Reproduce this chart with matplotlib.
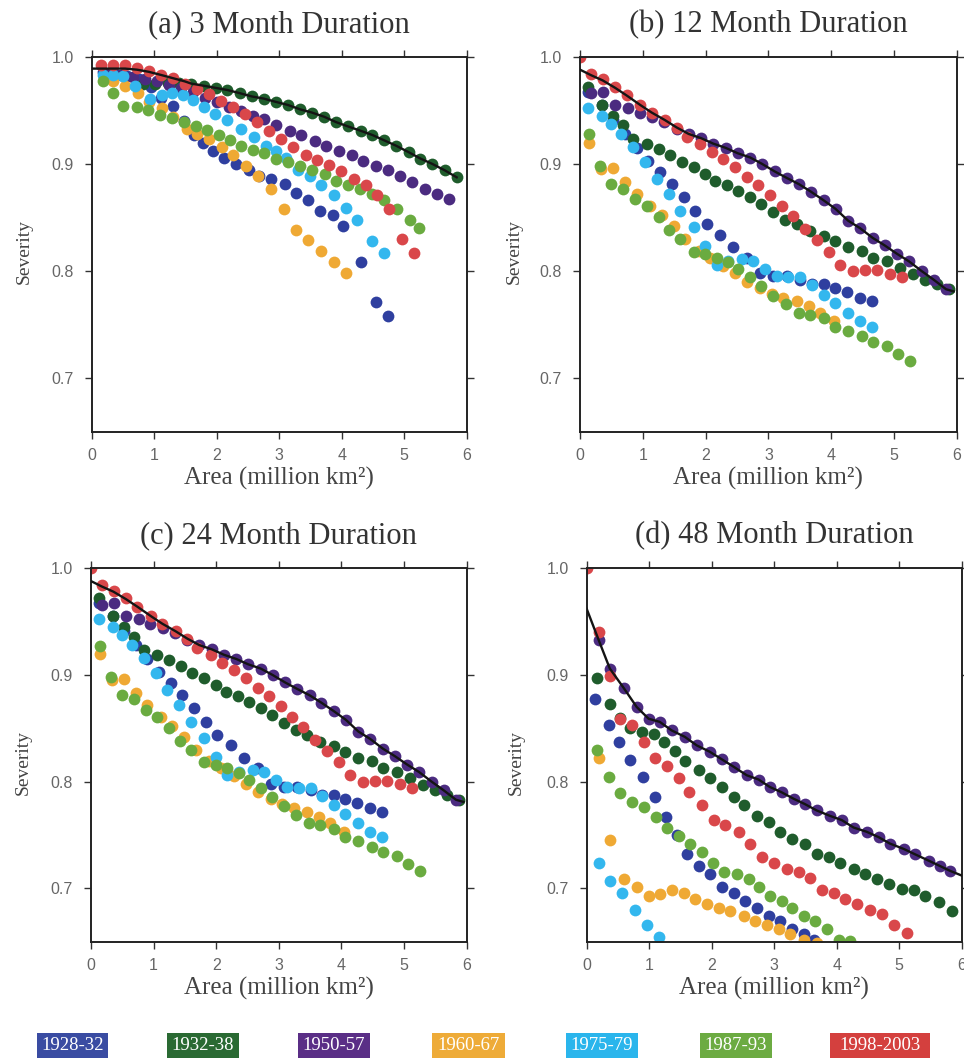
import matplotlib
matplotlib.use("Agg")
import matplotlib.pyplot as plt
from matplotlib.patches import Rectangle

# Drought periods (legend) and colours
periods = ["1928-32", "1932-38", "1950-57", "1960-67", "1975-79", "1987-93", "1998-2003"]
dot_colors = ["#2f3f9f", "#1f5c2c", "#4b2b80", "#efa934", "#33b7ee", "#6aab40", "#d9474a"]
box_colors = ["#3a4ca2", "#2a6a33", "#5a2e86", "#eeab38", "#2ab5ec", "#6cab42", "#d4403e"]

titles = ["(a) 3 Month Duration", "(b) 12 Month Duration",
          "(c) 24 Month Duration", "(d) 48 Month Duration"]
x_ticks = [0, 1, 2, 3, 4, 5, 6]
y_ticks = [0.7, 0.8, 0.9, 1.0]

# ---- (a) 3 month duration ----
a_blue_x = [0.18, 0.37, 0.56, 0.75, 0.94, 1.10, 1.29, 1.47, 1.64, 1.78, 1.94, 2.12, 2.31, 2.52, 2.68,
            2.87, 3.09, 3.27, 3.46, 3.65, 3.86, 4.02, 4.30, 4.55, 4.74]
a_blue_y = [0.986, 0.984, 0.982, 0.979, 0.972, 0.962, 0.954, 0.940, 0.927, 0.920, 0.912, 0.906, 0.900,
            0.894, 0.889, 0.886, 0.881, 0.873, 0.866, 0.856, 0.852, 0.842, 0.808, 0.771, 0.758]
a_dkgreen_x = [0.82, 1.01, 1.21, 1.40, 1.59, 1.79, 1.98, 2.17, 2.37, 2.56, 2.75, 2.94, 3.14, 3.33,
               3.52, 3.72, 3.91, 4.10, 4.30, 4.49, 4.68, 4.87, 5.07, 5.26, 5.45, 5.65, 5.84]
a_dkgreen_y = [0.975, 0.975, 0.976, 0.976, 0.975, 0.973, 0.971, 0.969, 0.966, 0.963, 0.961, 0.958,
               0.955, 0.951, 0.948, 0.944, 0.939, 0.935, 0.931, 0.927, 0.922, 0.917, 0.911, 0.905,
               0.900, 0.894, 0.8875]
a_purple_x = [0.27, 0.47, 0.66, 0.85, 1.04, 1.23, 1.43, 1.62, 1.81, 2.01, 2.20, 2.39, 2.58, 2.76,
              2.95, 3.17, 3.35, 3.57, 3.75, 3.96, 4.16, 4.34, 4.55, 4.74, 4.94, 5.13, 5.33, 5.52, 5.71]
a_purple_y = [0.984, 0.983, 0.981, 0.979, 0.977, 0.974, 0.971, 0.967, 0.962, 0.958, 0.953, 0.949,
              0.945, 0.942, 0.936, 0.931, 0.927, 0.921, 0.917, 0.912, 0.908, 0.903, 0.898, 0.894,
              0.889, 0.883, 0.877, 0.872, 0.867]
a_orange_x = [0.34, 0.53, 0.73, 0.92, 1.12, 1.30, 1.52, 1.68, 1.87, 2.08, 2.26, 2.47, 2.66, 2.87,
              3.07, 3.27, 3.46, 3.66, 3.87, 4.07]
a_orange_y = [0.977, 0.973, 0.966, 0.958, 0.952, 0.944, 0.933, 0.928, 0.923, 0.916, 0.908, 0.898,
              0.889, 0.877, 0.858, 0.838, 0.829, 0.819, 0.808, 0.798]
a_ltblue_x = [0.18, 0.34, 0.50, 0.69, 0.93, 1.12, 1.28, 1.45, 1.62, 1.79, 1.97, 2.16, 2.38, 2.59,
              2.78, 2.95, 3.11, 3.30, 3.49, 3.67, 3.87, 4.06, 4.25, 4.49, 4.67]
a_ltblue_y = [0.983, 0.983, 0.982, 0.973, 0.961, 0.964, 0.966, 0.964, 0.960, 0.953, 0.947, 0.941,
              0.933, 0.925, 0.917, 0.912, 0.906, 0.894, 0.889, 0.880, 0.871, 0.859, 0.848, 0.828, 0.817]
a_green_x = [0.17, 0.34, 0.50, 0.72, 0.90, 1.09, 1.28, 1.47, 1.66, 1.84, 2.03, 2.21, 2.39, 2.58,
             2.76, 2.95, 3.14, 3.33, 3.53, 3.73, 3.91, 4.10, 4.29, 4.48, 4.68, 4.88, 5.09, 5.24]
a_green_y = [0.977, 0.966, 0.954, 0.953, 0.950, 0.946, 0.943, 0.939, 0.935, 0.932, 0.927, 0.922,
             0.917, 0.913, 0.910, 0.905, 0.902, 0.898, 0.894, 0.891, 0.884, 0.880, 0.877, 0.872,
             0.866, 0.858, 0.848, 0.840]
a_red_x = [0.14, 0.34, 0.53, 0.72, 0.91, 1.11, 1.30, 1.49, 1.68, 1.88, 2.07, 2.26, 2.45, 2.65,
           2.84, 3.03, 3.22, 3.42, 3.61, 3.80, 3.99, 4.19, 4.38, 4.57, 4.76, 4.96, 5.15]
a_red_y = [0.992, 0.992, 0.992, 0.990, 0.987, 0.983, 0.980, 0.975, 0.970, 0.965, 0.959, 0.953,
           0.947, 0.939, 0.931, 0.923, 0.916, 0.908, 0.904, 0.899, 0.893, 0.886, 0.880, 0.871,
           0.858, 0.830, 0.817]
a_env_x = [0.0, 0.14, 0.34, 0.53, 0.72, 0.91, 1.11, 1.30, 1.49, 1.59, 1.79, 1.98, 2.17, 2.37, 2.56,
           2.75, 2.94, 3.14, 3.33, 3.52, 3.72, 3.91, 4.10, 4.30, 4.49, 4.68, 4.87, 5.07, 5.26, 5.45,
           5.65, 5.84]
a_env_y = [0.989, 0.989, 0.989, 0.989, 0.988, 0.986, 0.983, 0.980, 0.977, 0.975, 0.973, 0.971,
           0.969, 0.966, 0.963, 0.961, 0.958, 0.955, 0.951, 0.948, 0.944, 0.939, 0.935, 0.931,
           0.927, 0.922, 0.917, 0.911, 0.905, 0.900, 0.894, 0.8875]

# ---- (b) 12 month duration ----
b_blue_x = [0.13, 0.35, 0.53, 0.72, 0.90, 1.09, 1.27, 1.46, 1.65, 1.83, 2.02, 2.23, 2.44, 2.66,
            2.87, 3.08, 3.29, 3.51, 3.69, 3.88, 4.06, 4.25, 4.46, 4.65]
b_blue_y = [0.967, 0.955, 0.941, 0.928, 0.915, 0.903, 0.892, 0.881, 0.869, 0.856, 0.844, 0.834,
            0.822, 0.8125, 0.798, 0.795, 0.795, 0.792, 0.7875, 0.7875, 0.784, 0.780, 0.775, 0.772]
b_dkgreen_x = [0.13, 0.35, 0.52, 0.69, 0.85, 1.06, 1.25, 1.43, 1.62, 1.81, 1.99, 2.15, 2.34, 2.52,
               2.71, 2.89, 3.08, 3.27, 3.45, 3.66, 3.88, 4.06, 4.27, 4.49, 4.67, 4.89, 5.10, 5.31,
               5.50, 5.68, 5.87]
b_dkgreen_y = [0.972, 0.955, 0.945, 0.936, 0.9235, 0.919, 0.914, 0.908, 0.902, 0.897, 0.891, 0.884,
               0.880, 0.875, 0.869, 0.8625, 0.855, 0.848, 0.844, 0.8375, 0.833, 0.828, 0.822,
               0.819, 0.8125, 0.809, 0.803, 0.797, 0.792, 0.7875, 0.783]
b_purple_x = [0.17, 0.37, 0.56, 0.76, 0.95, 1.15, 1.34, 1.54, 1.73, 1.93, 2.12, 2.32, 2.51, 2.71,
              2.90, 3.10, 3.29, 3.49, 3.68, 3.88, 4.07, 4.27, 4.46, 4.66, 4.85, 5.05, 5.24, 5.44,
              5.63, 5.83]
b_purple_y = [0.966, 0.967, 0.955, 0.952, 0.948, 0.944, 0.939, 0.933, 0.928, 0.924, 0.919, 0.915,
              0.910, 0.906, 0.900, 0.893, 0.887, 0.881, 0.874, 0.866, 0.858, 0.847, 0.840, 0.831,
              0.824, 0.816, 0.809, 0.800, 0.792, 0.783]
b_orange_x = [0.15, 0.33, 0.52, 0.72, 0.90, 1.12, 1.30, 1.49, 1.67, 1.89, 2.07, 2.28, 2.47, 2.66,
              2.87, 3.05, 3.24, 3.45, 3.64, 3.82, 4.04]
b_orange_y = [0.920, 0.895, 0.896, 0.883, 0.872, 0.861, 0.852, 0.842, 0.830, 0.819, 0.8125, 0.805,
              0.798, 0.790, 0.784, 0.779, 0.775, 0.772, 0.767, 0.761, 0.753]
b_ltblue_x = [0.13, 0.35, 0.50, 0.66, 0.85, 1.04, 1.22, 1.41, 1.59, 1.81, 1.99, 2.18, 2.36, 2.58,
              2.76, 2.95, 3.13, 3.32, 3.51, 3.69, 3.88, 4.06, 4.27, 4.46, 4.65]
b_ltblue_y = [0.9525, 0.945, 0.9375, 0.928, 0.916, 0.902, 0.886, 0.872, 0.856, 0.841, 0.823, 0.806,
              0.809, 0.811, 0.809, 0.802, 0.795, 0.794, 0.794, 0.787, 0.778, 0.770, 0.761, 0.753,
              0.748]
b_green_x = [0.15, 0.32, 0.50, 0.68, 0.88, 1.06, 1.25, 1.42, 1.59, 1.81, 1.99, 2.18, 2.36, 2.52,
             2.71, 2.89, 3.08, 3.28, 3.48, 3.66, 3.88, 4.06, 4.27, 4.49, 4.67, 4.89, 5.07, 5.26]
b_green_y = [0.9275, 0.898, 0.881, 0.877, 0.867, 0.861, 0.850, 0.838, 0.830, 0.818, 0.816, 0.8125,
             0.808, 0.802, 0.794, 0.786, 0.777, 0.769, 0.761, 0.759, 0.756, 0.748, 0.744, 0.739,
             0.734, 0.730, 0.723, 0.716]
b_red_x = [0.0, 0.17, 0.36, 0.56, 0.74, 0.96, 1.14, 1.35, 1.54, 1.70, 1.91, 2.10, 2.28, 2.47, 2.66,
           2.84, 3.03, 3.21, 3.39, 3.58, 3.77, 3.96, 4.14, 4.35, 4.54, 4.73, 4.94, 5.12]
b_red_y = [1.0, 0.984, 0.979, 0.972, 0.964, 0.955, 0.948, 0.941, 0.934, 0.925, 0.919, 0.911, 0.905,
           0.897, 0.888, 0.880, 0.871, 0.861, 0.851, 0.839, 0.829, 0.818, 0.806, 0.800, 0.801,
           0.801, 0.7975, 0.794]
b_env_x = [0.0, 0.17, 0.36, 0.56, 0.74, 0.96, 1.14, 1.35, 1.54, 1.73, 1.93, 2.12, 2.32, 2.51, 2.71,
           2.90, 3.10, 3.29, 3.49, 3.68, 3.88, 4.07, 4.27, 4.46, 4.66, 4.85, 5.05, 5.24, 5.44, 5.63,
           5.83, 5.95]
b_env_y = [0.988, 0.983, 0.978, 0.971, 0.964, 0.955, 0.948, 0.941, 0.934, 0.928, 0.924, 0.919,
           0.915, 0.910, 0.906, 0.900, 0.893, 0.887, 0.881, 0.874, 0.866, 0.858, 0.847, 0.840,
           0.831, 0.824, 0.816, 0.809, 0.800, 0.792, 0.783, 0.781]

# ---- (d) 48 month duration ----
d_blue_x = [0.13, 0.35, 0.52, 0.70, 0.90, 1.09, 1.27, 1.45, 1.60, 1.79, 1.97, 2.16, 2.35, 2.53,
            2.72, 2.91, 3.09, 3.28, 3.47, 3.63]
d_blue_y = [0.877, 0.853, 0.837, 0.820, 0.804, 0.786, 0.767, 0.750, 0.732, 0.721, 0.713, 0.701,
            0.696, 0.688, 0.682, 0.674, 0.669, 0.662, 0.657, 0.652]
d_dkgreen_x = [0.16, 0.37, 0.53, 0.69, 0.88, 1.07, 1.23, 1.41, 1.57, 1.79, 1.97, 2.16, 2.35, 2.51,
               2.72, 2.91, 3.09, 3.28, 3.49, 3.68, 3.87, 4.05, 4.27, 4.45, 4.64, 4.83, 5.04, 5.23,
               5.41, 5.63, 5.84]
d_dkgreen_y = [0.897, 0.873, 0.860, 0.850, 0.847, 0.845, 0.837, 0.829, 0.819, 0.811, 0.803, 0.795,
               0.786, 0.778, 0.768, 0.762, 0.753, 0.746, 0.742, 0.732, 0.729, 0.724, 0.718, 0.713,
               0.709, 0.704, 0.699, 0.698, 0.693, 0.687, 0.679]
d_purple_x = [0.19, 0.37, 0.59, 0.80, 0.99, 1.17, 1.36, 1.57, 1.76, 1.97, 2.16, 2.35, 2.56, 2.75,
              2.93, 3.12, 3.31, 3.49, 3.68, 3.89, 4.08, 4.27, 4.48, 4.67, 4.85, 5.07, 5.25, 5.47,
              5.65, 5.81]
d_purple_y = [0.933, 0.906, 0.888, 0.870, 0.859, 0.856, 0.848, 0.842, 0.834, 0.828, 0.821, 0.814,
              0.806, 0.802, 0.795, 0.790, 0.784, 0.779, 0.773, 0.768, 0.764, 0.757, 0.753, 0.748,
              0.742, 0.737, 0.732, 0.726, 0.721, 0.7165]
d_orange_x = [0.19, 0.37, 0.59, 0.80, 1.00, 1.17, 1.36, 1.55, 1.73, 1.92, 2.11, 2.29, 2.51, 2.69,
              2.88, 3.07, 3.25, 3.47, 3.68]
d_orange_y = [0.822, 0.745, 0.709, 0.701, 0.693, 0.695, 0.698, 0.696, 0.690, 0.685, 0.682, 0.679,
              0.674, 0.669, 0.666, 0.662, 0.657, 0.652, 0.649]
d_ltblue_x = [0.19, 0.37, 0.56, 0.77, 0.96, 1.15]
d_ltblue_y = [0.724, 0.707, 0.696, 0.680, 0.666, 0.654]
d_green_x = [0.17, 0.35, 0.53, 0.72, 0.91, 1.11, 1.28, 1.47, 1.65, 1.84, 2.02, 2.20, 2.40, 2.59,
             2.76, 2.93, 3.12, 3.28, 3.47, 3.65, 3.84, 4.03, 4.21]
d_green_y = [0.830, 0.804, 0.789, 0.781, 0.776, 0.767, 0.757, 0.749, 0.742, 0.734, 0.724, 0.715,
             0.713, 0.709, 0.701, 0.693, 0.688, 0.682, 0.674, 0.669, 0.662, 0.652, 0.651]
d_red_x = [0.0, 0.19, 0.37, 0.53, 0.72, 0.91, 1.09, 1.28, 1.47, 1.63, 1.84, 2.03, 2.21, 2.43, 2.61,
           2.80, 2.99, 3.20, 3.39, 3.57, 3.76, 3.95, 4.13, 4.32, 4.53, 4.72, 4.91, 5.12]
d_red_y = [1.0, 0.940, 0.899, 0.859, 0.853, 0.837, 0.822, 0.815, 0.803, 0.790, 0.778, 0.764, 0.759,
           0.753, 0.742, 0.729, 0.724, 0.718, 0.715, 0.710, 0.698, 0.696, 0.690, 0.685, 0.680,
           0.676, 0.666, 0.658]
d_env_x = [0.0, 0.19, 0.37, 0.59, 0.80, 0.99, 1.17, 1.36, 1.57, 1.76, 1.97, 2.16, 2.35, 2.56, 2.75,
           2.93, 3.12, 3.31, 3.49, 3.68, 3.89, 4.08, 4.27, 4.48, 4.67, 4.85, 5.07, 5.25, 5.47, 5.65,
           5.81, 6.0]
d_env_y = [0.962, 0.933, 0.906, 0.888, 0.870, 0.859, 0.856, 0.848, 0.842, 0.834, 0.828, 0.821,
           0.814, 0.806, 0.802, 0.795, 0.790, 0.784, 0.779, 0.773, 0.768, 0.764, 0.757, 0.753,
           0.748, 0.742, 0.737, 0.732, 0.726, 0.721, 0.7165, 0.712]

a_series = [(a_blue_x, a_blue_y), (a_dkgreen_x, a_dkgreen_y), (a_purple_x, a_purple_y),
            (a_orange_x, a_orange_y), (a_ltblue_x, a_ltblue_y), (a_green_x, a_green_y),
            (a_red_x, a_red_y)]
b_series = [(b_blue_x, b_blue_y), (b_dkgreen_x, b_dkgreen_y), (b_purple_x, b_purple_y),
            (b_orange_x, b_orange_y), (b_ltblue_x, b_ltblue_y), (b_green_x, b_green_y),
            (b_red_x, b_red_y)]
d_series = [(d_blue_x, d_blue_y), (d_dkgreen_x, d_dkgreen_y), (d_purple_x, d_purple_y),
            (d_orange_x, d_orange_y), (d_ltblue_x, d_ltblue_y), (d_green_x, d_green_y),
            (d_red_x, d_red_y)]

# panel (c) in the source figure shows the same points as panel (b)
panels = [(a_series, a_env_x, a_env_y), (b_series, b_env_x, b_env_y),
          (b_series, b_env_x, b_env_y), (d_series, d_env_x, d_env_y)]

serif = ["Liberation Serif", "DejaVu Serif"]
sans = ["Liberation Sans", "DejaVu Sans"]

fig = plt.figure(figsize=(9.64, 10.62), dpi=100)

# axes boxes [left, bottom, width, height]
rects = [[0.0954, 0.5935, 0.3887, 0.3530],
         [0.6017, 0.5935, 0.3908, 0.3530],
         [0.0944, 0.1133, 0.3897, 0.3516],
         [0.6086, 0.1133, 0.3890, 0.3516]]
ylabel_x = [-0.157, -0.151, -0.157, -0.165]

for i, (series, env_x, env_y) in enumerate(panels):
    ax = fig.add_axes(rects[i])

    # drought period dots
    for (xs, ys), color in zip(series, dot_colors):
        ax.scatter(xs, ys, s=72, color=color, linewidths=0, zorder=2)

    # upper envelope line
    ax.plot(env_x, env_y, color="#141414", lw=1.7, zorder=3)

    ax.set_xlim(0, 6)
    ax.set_ylim(0.65, 1.0)
    ax.set_xticks(x_ticks)
    ax.set_yticks(y_ticks)
    ax.set_yticklabels([f"{v:.1f}" for v in y_ticks])

    ax.tick_params(direction="out", length=5, width=1, color="#333333",
                   top=True, right=True, labelsize=11.5, labelcolor="#666666")
    ax.tick_params(axis="x", pad=7)
    ax.tick_params(axis="y", pad=8)
    for lab in ax.get_xticklabels() + ax.get_yticklabels():
        lab.set_family(sans)
    for sp in ax.spines.values():
        sp.set_color("#222222")
        sp.set_linewidth(1.4)

    ax.set_title(titles[i], family=serif, fontsize=22, color="#333333", pad=18)
    ax.set_xlabel("Area (million km\u00b2)", family=serif, fontsize=18, color="#444444")
    ax.xaxis.set_label_coords(0.5, -0.095)
    ax.set_ylabel("Severity", family=serif, fontsize=14, color="#444444")
    ax.yaxis.set_label_coords(ylabel_x[i], 0.48)

# legend boxes along the bottom
box_left = [37, 167, 298, 432, 566, 700, 830]
box_width = [71, 72, 72, 73, 72, 72, 100]
for label, color, left, w in zip(periods, box_colors, box_left, box_width):
    fig.patches.append(Rectangle((left / 964, 4 / 1062), w / 964, 25 / 1062,
                                 transform=fig.transFigure, facecolor=color,
                                 edgecolor="none"))
    fig.text((left + w / 2) / 964, 16.5 / 1062, label, family=serif, fontsize=13.5,
             color="white", ha="center", va="center")

fig.savefig("out.png", dpi=100)
